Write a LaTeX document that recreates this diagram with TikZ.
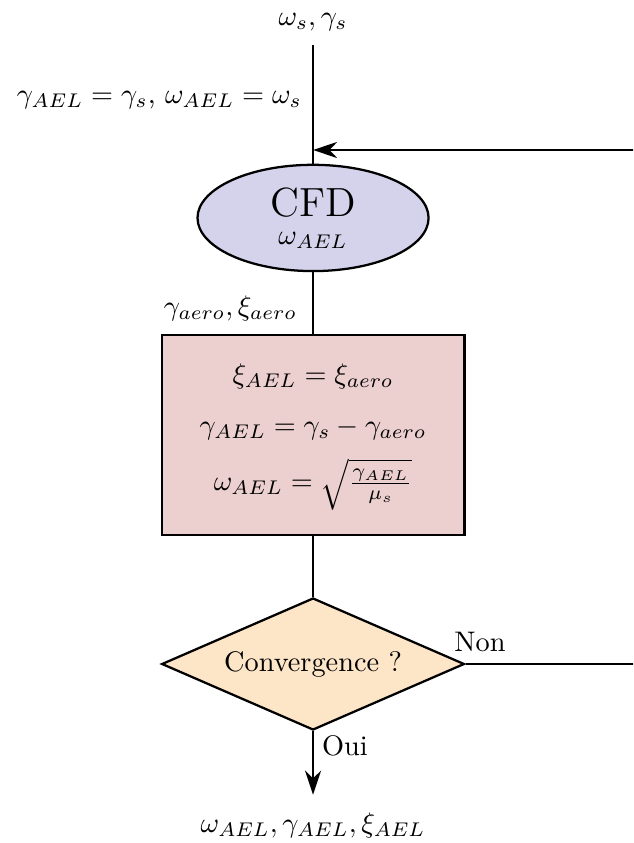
\documentclass[tikz,border=0pt]{standalone}
\usepackage{amsmath}
\usepackage{xcolor}
\usetikzlibrary{arrows.meta,shapes.geometric}
\definecolor{cfdblue}{HTML}{D4D3EB}
\definecolor{updatered}{HTML}{ECCFCF}
\definecolor{convorange}{HTML}{FDE5C8}
\tikzset{
  line/.style={draw=black, line width=0.8pt},
  arrline/.style={draw=black, -{Stealth[length=3mm,width=2mm]}, line width=0.8pt},
  cfdnode/.style={ellipse, draw, line width=0.8pt, fill=cfdblue,
    minimum width=2.87cm, minimum height=1.32cm, inner sep=0pt, align=center},
  updatebox/.style={rectangle, draw, line width=0.8pt, fill=updatered,
    minimum width=3.76cm, minimum height=2.48cm, inner sep=0pt, align=center},
  decision/.style={diamond, draw, line width=0.8pt, fill=convorange,
    aspect=2.29, minimum width=3.76cm, minimum height=1.64cm,
    inner sep=0pt, align=center},
  lbl/.style={inner sep=1pt}
}

\begin{document}
\begin{tikzpicture}[x=1cm,y=1cm]
  \path[use as bounding box] (0,0) rectangle (7.862,10.47);
  \clip (0,0) rectangle (7.862,10.47);

  \node[lbl] (init) at (3.888,10.2) {$\omega_s, \gamma_s$};
  \node[lbl, anchor=east] (initlbl) at (3.79,9.228)
    {$\gamma_{AEL} = \gamma_s$, $\omega_{AEL} = \omega_s$};
  \node[cfdnode] (cfd) at (3.888,7.763)
    {{\Large CFD}\\[-2pt]$\omega_{AEL}$};
  \node[lbl, anchor=east] (aerolbl) at (3.73,6.645)
    {$\gamma_{aero}, \xi_{aero}$};
  \node[updatebox] (update) at (3.888,5.067)
    {\begin{tabular}{c}
     $\xi_{AEL} = \xi_{aero}$\\[6pt]
     $\gamma_{AEL} = \gamma_s - \gamma_{aero}$\\[5pt]
     $\omega_{AEL} = \sqrt{\frac{\gamma_{AEL}}{\mu_s}}$
     \end{tabular}};
  \node[decision] (conv) at (3.888,2.223) {Convergence ?};
  \node[lbl] (result) at (3.888,0.224)
    {$\omega_{AEL}, \gamma_{AEL}, \xi_{AEL}$};

  \node[lbl] (non) at (5.962,2.496) {Non};
  \node[lbl] (oui) at (4.285,1.205) {Oui};

  \coordinate (loopin) at (3.888,8.607);
  \coordinate (retour) at (8.3,2.223);
  \coordinate (fin) at (3.888,0.6);

  \draw[line] ([yshift=-4pt]init.south) -- (cfd.north);
  \draw[arrline] (conv.east) -- (retour) |- (loopin);
  \draw[line] (cfd.south) -- (update.north);
  \draw[line] (update.south) -- (conv.north);
  \draw[arrline] (conv.south) -- (fin);
\end{tikzpicture}
\end{document}
